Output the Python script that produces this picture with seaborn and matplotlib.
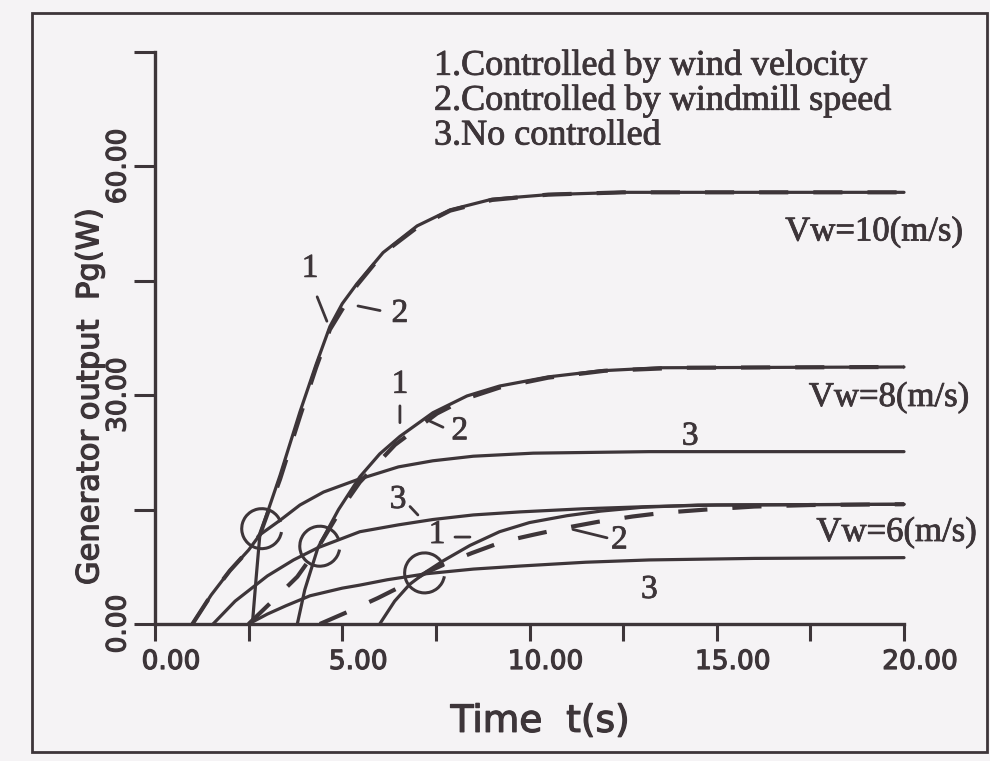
import matplotlib
matplotlib.use("Agg")
import matplotlib.pyplot as plt
import matplotlib.patheffects as pe
import seaborn as sns
import pandas as pd
from matplotlib.patches import Arc, Rectangle
from matplotlib.transforms import ScaledTranslation

# ---------------- data ----------------
# Vw = 10 m/s
t10_1 = [2.6, 2.7, 2.8, 3.34, 3.87, 4.3, 4.67, 5.0, 5.39, 6.09, 7.0, 7.88, 9.0, 10.5, 12.5, 20.0]
p10_1 = [0.0, 6.0, 11.7, 19.5, 27.8, 34.0, 39.0, 42.0, 44.6, 48.7, 52.2, 54.3, 55.7, 56.3, 56.6, 56.6]
t10_2 = [1.0, 1.5, 2.0, 2.5, 2.8, 3.34, 3.87, 4.3, 4.67, 5.39, 6.09, 7.0, 7.88, 9.0, 10.5, 12.5, 20.0]
p10_2 = [0.0, 3.8, 7.0, 9.7, 11.7, 19.0, 27.2, 33.6, 38.6, 44.4, 48.6, 52.0, 54.2, 55.6, 56.3, 56.6, 56.6]
t10_3 = [1.0, 1.5, 2.0, 2.5, 2.8, 3.34, 3.87, 4.5, 5.39, 6.5, 7.42, 8.5, 10.1, 13.2, 16.0, 20.0]
p10_3 = [0.0, 3.8, 7.0, 9.7, 11.7, 13.6, 15.6, 17.3, 18.9, 20.6, 21.4, 22.0, 22.4, 22.6, 22.6, 22.6]

# Vw = 8 m/s
t8_1 = [3.8, 4.0, 4.35, 4.9, 5.47, 6.0, 6.54, 7.42, 8.33, 9.2, 10.5, 11.9, 13.5, 20.0]
p8_1 = [0.0, 4.5, 10.0, 15.0, 19.3, 22.3, 24.6, 27.7, 29.9, 31.2, 32.4, 33.2, 33.6, 33.7]
t8_2 = [2.5, 3.26, 3.8, 4.35, 5.0, 5.47, 6.41, 7.53, 8.33, 9.2, 10.5, 12.0, 14.0, 20.0]
p8_2 = [0.0, 3.6, 6.2, 10.0, 15.3, 18.6, 23.5, 27.6, 29.6, 31.0, 32.3, 33.2, 33.6, 33.7]
t8_3 = [1.55, 2.14, 3.0, 3.7, 4.35, 5.47, 6.5, 7.42, 8.5, 9.75, 11.4, 13.2, 15.0, 20.0]
p8_3 = [0.0, 3.0, 6.3, 8.4, 10.0, 12.1, 13.0, 13.7, 14.3, 14.7, 15.1, 15.4, 15.6, 15.7]

# Vw = 6 m/s
t6_1 = [6.0, 6.4, 6.8, 7.26, 7.7, 8.41, 9.2, 10.0, 11.0, 11.9, 13.0, 14.5, 20.0]
p6_1 = [0.0, 3.0, 5.2, 6.9, 8.3, 10.3, 12.1, 13.3, 14.2, 14.8, 15.3, 15.6, 15.7]
t6_2 = [4.4, 5.15, 5.95, 6.6, 7.26, 7.9, 8.46, 9.29, 10.1, 10.95, 11.83, 12.76, 13.6, 14.7, 16.0, 17.5, 20.0]
p6_2 = [0.0, 1.6, 3.4, 5.0, 6.8, 8.2, 9.3, 10.8, 11.7, 12.6, 13.4, 14.1, 14.6, 15.0, 15.4, 15.6, 15.7]
t6_3 = [2.5, 3.0, 3.5, 4.14, 5.0, 5.47, 6.2, 7.26, 8.5, 9.75, 11.5, 13.2, 16.0, 20.0]
p6_3 = [0.0, 1.3, 2.4, 3.7, 4.7, 5.1, 5.8, 6.6, 7.2, 7.6, 8.1, 8.4, 8.6, 8.7]

# switching points (circles)
circ_t = [2.85, 4.4, 7.2]
circ_p = [12.5, 10.2, 6.7]

x_ticks_major = [0, 5, 10, 15, 20]
x_ticks_minor = [2.5, 7.5, 12.5, 17.5]
x_tick_labels = ["0.00", "5.00", "10.00", "15.00", "20.00"]
y_ticks_major = [0, 30, 60]
y_ticks_minor = [15, 45, 75]
y_tick_labels = ["0.00", "30.00", "60.00"]

legend_lines = ["1.Controlled by wind velocity",
                "2.Controlled by windmill speed",
                "3.No controlled"]
vw_labels = ["Vw=10(m/s)", "Vw=8(m/s)", "Vw=6(m/s)"]

# ---------------- build long table ----------------
rows = []
series = [
    ("10-1", "solid", t10_1, p10_1), ("10-3", "solid", t10_3, p10_3),
    ("8-1", "solid", t8_1, p8_1), ("8-3", "solid", t8_3, p8_3),
    ("6-1", "solid", t6_1, p6_1), ("6-3", "solid", t6_3, p6_3),
    ("10-2", "dash", t10_2, p10_2), ("8-2", "dash", t8_2, p8_2),
    ("6-2", "dash", t6_2, p6_2),
]
for name, kind, ts, ps in series:
    for t, p in zip(ts, ps):
        rows.append({"curve": name, "kind": kind, "t": t, "P": p})
df = pd.DataFrame(rows)

# ---------------- style ----------------
INK = "#3d3539"
BG = "#f5f3f5"
sns.set_theme(style="white")
plt.rcParams["font.family"] = ["DejaVu Sans"]
thick = [pe.withStroke(linewidth=0.9, foreground=INK)]
thin = [pe.withStroke(linewidth=0.6, foreground=INK)]

fig = plt.figure(figsize=(9.9, 7.61), dpi=100, facecolor=BG)
ax = fig.add_axes([155 / 990, 1 - 624 / 761, 749 / 990, (624 - 52) / 761])
ax.set_facecolor(BG)

for name, kind, ts, ps in series:
    sub = df[df["curve"] == name]
    if kind == "solid":
        sns.lineplot(data=sub, x="t", y="P", ax=ax, color=INK, lw=2.3,
                     estimator=None, sort=False, legend=False, clip_on=False)
    else:
        sns.lineplot(data=sub, x="t", y="P", ax=ax, color=INK, lw=3.0,
                     estimator=None, sort=False, legend=False, clip_on=False,
                     dashes=False, linestyle=(0, (7, 6)))

# circles (open "C" shaped arcs)
for ct, cp in zip(circ_t, circ_p):
    ax.add_patch(Arc((ct, cp), width=40 / 37.45, height=40 / 7.63,
                     theta1=60, theta2=320, color=INK, lw=2.2))

ax.set_xlim(0, 20)
ax.set_ylim(0, 75)
for s in ["top", "right"]:
    ax.spines[s].set_visible(False)
for s in ["left", "bottom"]:
    ax.spines[s].set_color(INK)
    ax.spines[s].set_linewidth(2.4)

ax.set_xticks(x_ticks_major)
ax.set_xticks(x_ticks_minor, minor=True)
ax.set_xticklabels(x_tick_labels)
ax.set_yticks(y_ticks_major)
ax.set_yticks(y_ticks_minor, minor=True)
ax.set_yticklabels(y_tick_labels)
ax.tick_params(axis="x", which="both", direction="out", length=12, width=2.2,
               color=INK, labelsize=19, labelcolor=INK, pad=6, bottom=True)
ax.tick_params(axis="y", which="both", direction="out", length=15, width=2.2,
               color=INK, labelsize=19, labelcolor=INK, pad=2, left=True)
for lab in ax.get_xticklabels():
    lab.set_transform(lab.get_transform() + ScaledTranslation(0.16, 0, fig.dpi_scale_trans))
    lab.set_path_effects(thick)
for lab in ax.get_yticklabels():
    lab.set_rotation(90)
    lab.set_va("center")
    lab.set_path_effects(thick)
ax.grid(False)

ax.set_xlabel("Time  t(s)", fontsize=27, color=INK, path_effects=thick, va="center")
ax.xaxis.set_label_coords(0.514, -0.171)
ax.set_ylabel("Generator output  Pg(W)", fontsize=22, color=INK,
              path_effects=thick, va="center")
ax.yaxis.set_label_coords(-0.087, 0.397)

# annotations (serif)
SERIF = ["Liberation Serif", "DejaVu Serif"]
ann = dict(fontsize=24, color=INK, family=SERIF, ha="center", va="center",
           path_effects=thin)
def lab(txt, xy_text, seg=None):
    ax.text(xy_text[0], xy_text[1], txt, **ann)
    if seg is not None:
        ax.annotate("", xy=seg[1], xytext=seg[0],
                    arrowprops=dict(arrowstyle="-", color=INK, lw=2.0,
                                    shrinkA=0, shrinkB=0))

lab("1", (4.14, 46.6), ((4.33, 42.9), (4.59, 39.7)))
lab("2", (6.54, 40.7), ((5.42, 41.7), (6.01, 41.1)))
lab("1", (6.54, 31.4), ((6.54, 28.6), (6.54, 26.4)))
lab("2", (8.14, 25.3), ((7.34, 26.6), (7.69, 25.8)))
lab("3", (6.49, 16.3), ((6.81, 15.4), (7.02, 14.3)))
lab("1", (7.53, 11.7), ((8.01, 11.4), (8.41, 11.4)))
lab("2", (12.4, 11.0), ((11.16, 12.4), (12.07, 11.3)))
lab("3", (14.29, 24.6))
lab("3", (13.2, 4.5))

vw_pos = [(19.2, 51.4), (19.6, 29.7), (19.8, 12.0)]
for txt, (x, y) in zip(vw_labels, vw_pos):
    ax.text(x, y, txt, fontsize=25, color=INK, family=SERIF,
            ha="center", va="center", clip_on=False, path_effects=thin)

for i, txt in enumerate(legend_lines):
    fig.text(434 / 990, 1 - (66 + 35 * i) / 761, txt, fontsize=26, color=INK,
             family=SERIF, ha="left", va="center", path_effects=thin)

# outer frame
fig.patches.append(Rectangle((32 / 990, 1 - 752 / 761), (987 - 32) / 990,
                             (752 - 13) / 761, transform=fig.transFigure,
                             fill=False, edgecolor=INK, lw=2.0))

fig.savefig("out.png", dpi=100, facecolor=BG)
